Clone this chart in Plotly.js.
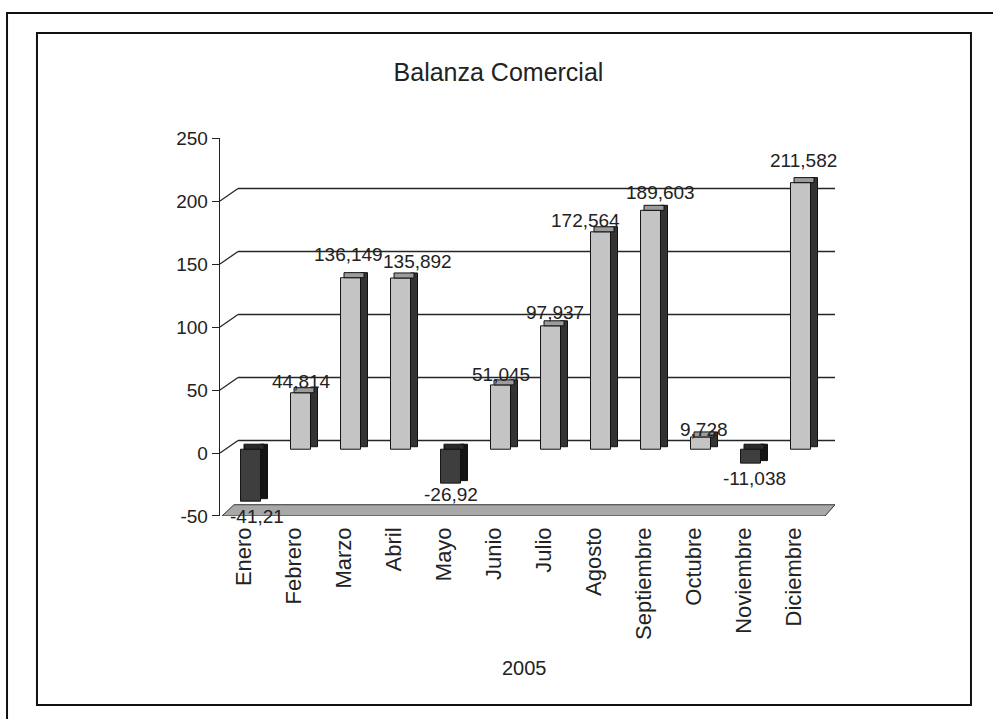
<!DOCTYPE html>
<html>
<head>
<meta charset="utf-8">
<script src="https://cdn.plot.ly/plotly-3.0.1.min.js"></script>
<style>
  html, body { margin: 0; padding: 0; background: #ffffff; }
  #chart { width: 993px; height: 719px; }
</style>
</head>
<body>
<div id="chart"></div>
<script>
// ---- data ----
const chartTitle = 'Balanza Comercial';
const yearLabel = '2005';
const months = ['Enero', 'Febrero', 'Marzo', 'Abril', 'Mayo', 'Junio', 'Julio',
                'Agosto', 'Septiembre', 'Octubre', 'Noviembre', 'Diciembre'];
const balance = [-41.21, 44.814, 136.149, 135.892, -26.92, 51.045, 97.937,
                 172.564, 189.603, 9.728, -11.038, 211.582];
const yTicks = [-50, 0, 50, 100, 150, 200, 250];
const gridTicks = [0, 50, 100, 150, 200];

// ---- 3D look constants (axis units) ----
const D = 3;        // bars sit at mid depth
const T = 4;        // depth of the top face
const WALL = 9.92;  // back wall shift (about 12.5px)
const FONT = '"Liberation Sans", Arial, sans-serif';

// label placement style (pixels): gap from bar end, horizontal nudge
const labelGapPos = 7, labelGapNeg = 14;
const labelStyle = {
  Enero: { gap: 15, dx: 6 }, Febrero: { gap: 6, dx: 1 }, Marzo: { gap: 18, dx: -2 },
  Abril: { gap: 11, dx: 17 }, Mayo: { gap: 11, dx: 0 }, Junio: { gap: 5, dx: 0 },
  Julio: { gap: 8, dx: 4 }, Agosto: { gap: 6, dx: -15 }, Septiembre: { gap: 13, dx: 10 },
  Octubre: { gap: 2, dx: 3 }, Noviembre: { gap: 15, dx: 4 }, Diciembre: { gap: 17, dx: 3 }
};

const labels = balance.map(v => String(v).replace('.', ','));
const isPos = balance.map(v => v >= 0);

const frontTrace = {
  type: 'bar', x: months, y: balance, base: D,
  width: 0.4, offset: -0.2,
  marker: {
    color: isPos.map(p => p ? '#c4c4c4' : '#3e3e3e'),
    line: { color: '#151515', width: 1 }
  },
  hoverinfo: 'skip'
};

const sideTrace = {
  type: 'bar', x: months,
  y: balance.map(v => Math.abs(v) + T / 2),
  base: balance.map(v => Math.min(v, 0) + D + T / 2),
  width: 0.14, offset: 0.2,
  marker: {
    color: isPos.map(p => p ? '#333333' : '#141414'),
    line: { color: '#111', width: 1 }
  },
  hoverinfo: 'skip'
};

const topTrace = {
  type: 'bar', x: months,
  y: balance.map(() => T),
  base: balance.map(v => Math.max(v, 0) + D),
  width: 0.4, offset: -0.13,
  marker: {
    color: isPos.map(p => p ? '#9c9c9c' : '#2a2a2a'),
    line: { color: '#111', width: 1 }
  },
  hoverinfo: 'skip'
};

// data labels as annotations positioned on the library's axes
const labelAnnotations = balance.map((v, i) => {
  const st = labelStyle[months[i]] || {};
  const gap = st.gap !== undefined ? st.gap : (v > 0 ? labelGapPos : labelGapNeg);
  return {
    x: months[i], xref: 'x', yref: 'y',
    y: v > 0 ? v + D + T : v + D,
    text: labels[i], showarrow: false,
    xanchor: 'center', yanchor: 'middle',
    xshift: st.dx || 0, yshift: v > 0 ? gap : -gap,
    font: { family: FONT, size: 19, color: '#222' }
  };
});

// ---- decorations: back-wall gridlines, tick connectors, floor, frames ----
const shapes = [];
gridTicks.forEach(t => {
  shapes.push({ type: 'line', layer: 'below', xref: 'paper', yref: 'y',
    x0: 0.0293, x1: 1, y0: t + WALL, y1: t + WALL,
    line: { color: '#262626', width: 1.3 } });
  shapes.push({ type: 'line', layer: 'below', xref: 'paper', yref: 'y',
    x0: 0, x1: 0.0293, y0: t, y1: t + WALL,
    line: { color: '#262626', width: 1.3 } });
});
shapes.push({ type: 'path', layer: 'below', xref: 'x', yref: 'y',
  path: 'M -0.57,-50 L -0.33,' + (-50 + WALL * 0.9) + ' L 11.69,' + (-50 + WALL * 0.9) + ' L 11.49,-50 Z',
  fillcolor: '#a8a8a8', line: { color: '#333', width: 1 } });
shapes.push({ type: 'rect', xref: 'paper', yref: 'paper',
  x0: -0.3463, x1: 1.2683, y0: -0.5404, y1: 1.2702,
  line: { color: '#111', width: 2 }, fillcolor: 'rgba(0,0,0,0)' });
shapes.push({ type: 'rect', xref: 'paper', yref: 'paper',
  x0: -0.2976, x1: 1.2211, y0: -0.4773, y1: 1.2197,
  line: { color: '#111', width: 2 }, fillcolor: 'rgba(0,0,0,0)' });

const layout = {
  width: 993, height: 719,
  margin: { l: 220, r: 158, t: 120, b: 203 },
  paper_bgcolor: '#ffffff', plot_bgcolor: 'rgba(0,0,0,0)',
  showlegend: false, hovermode: false,
  barmode: 'overlay',
  font: { family: FONT, color: '#222' },
  title: {
    text: chartTitle, xref: 'container', x: 0.502, y: 0.9, yanchor: 'middle',
    font: { family: FONT, size: 25, color: '#222' }
  },
  xaxis: {
    type: 'category', range: [-0.61, 11.69],
    showline: false, showgrid: false, zeroline: false, ticks: '',
    tickangle: -90, tickfont: { family: FONT, size: 22, color: '#222' },
    ticklabelstandoff: 6, ticklabelshift: -7,
    fixedrange: true
  },
  yaxis: {
    domain: [0, 0.9545], range: [-50, 250],
    tickvals: yTicks, ticktext: yTicks.map(String),
    showline: true, linecolor: '#222', linewidth: 1.3,
    ticks: 'outside', ticklen: 7, tickcolor: '#222',
    showgrid: false, zeroline: false,
    tickfont: { family: FONT, size: 19, color: '#222' },
    fixedrange: true
  },
  annotations: labelAnnotations.concat([{
    text: yearLabel, xref: 'paper', yref: 'paper', x: 0.495, y: -0.384,
    xanchor: 'center', yanchor: 'middle', showarrow: false,
    font: { family: FONT, size: 20, color: '#222' }
  }]),
  shapes: shapes
};

Plotly.newPlot('chart', [frontTrace, sideTrace, topTrace], layout,
  { displayModeBar: false, staticPlot: true });
</script>
</body>
</html>
